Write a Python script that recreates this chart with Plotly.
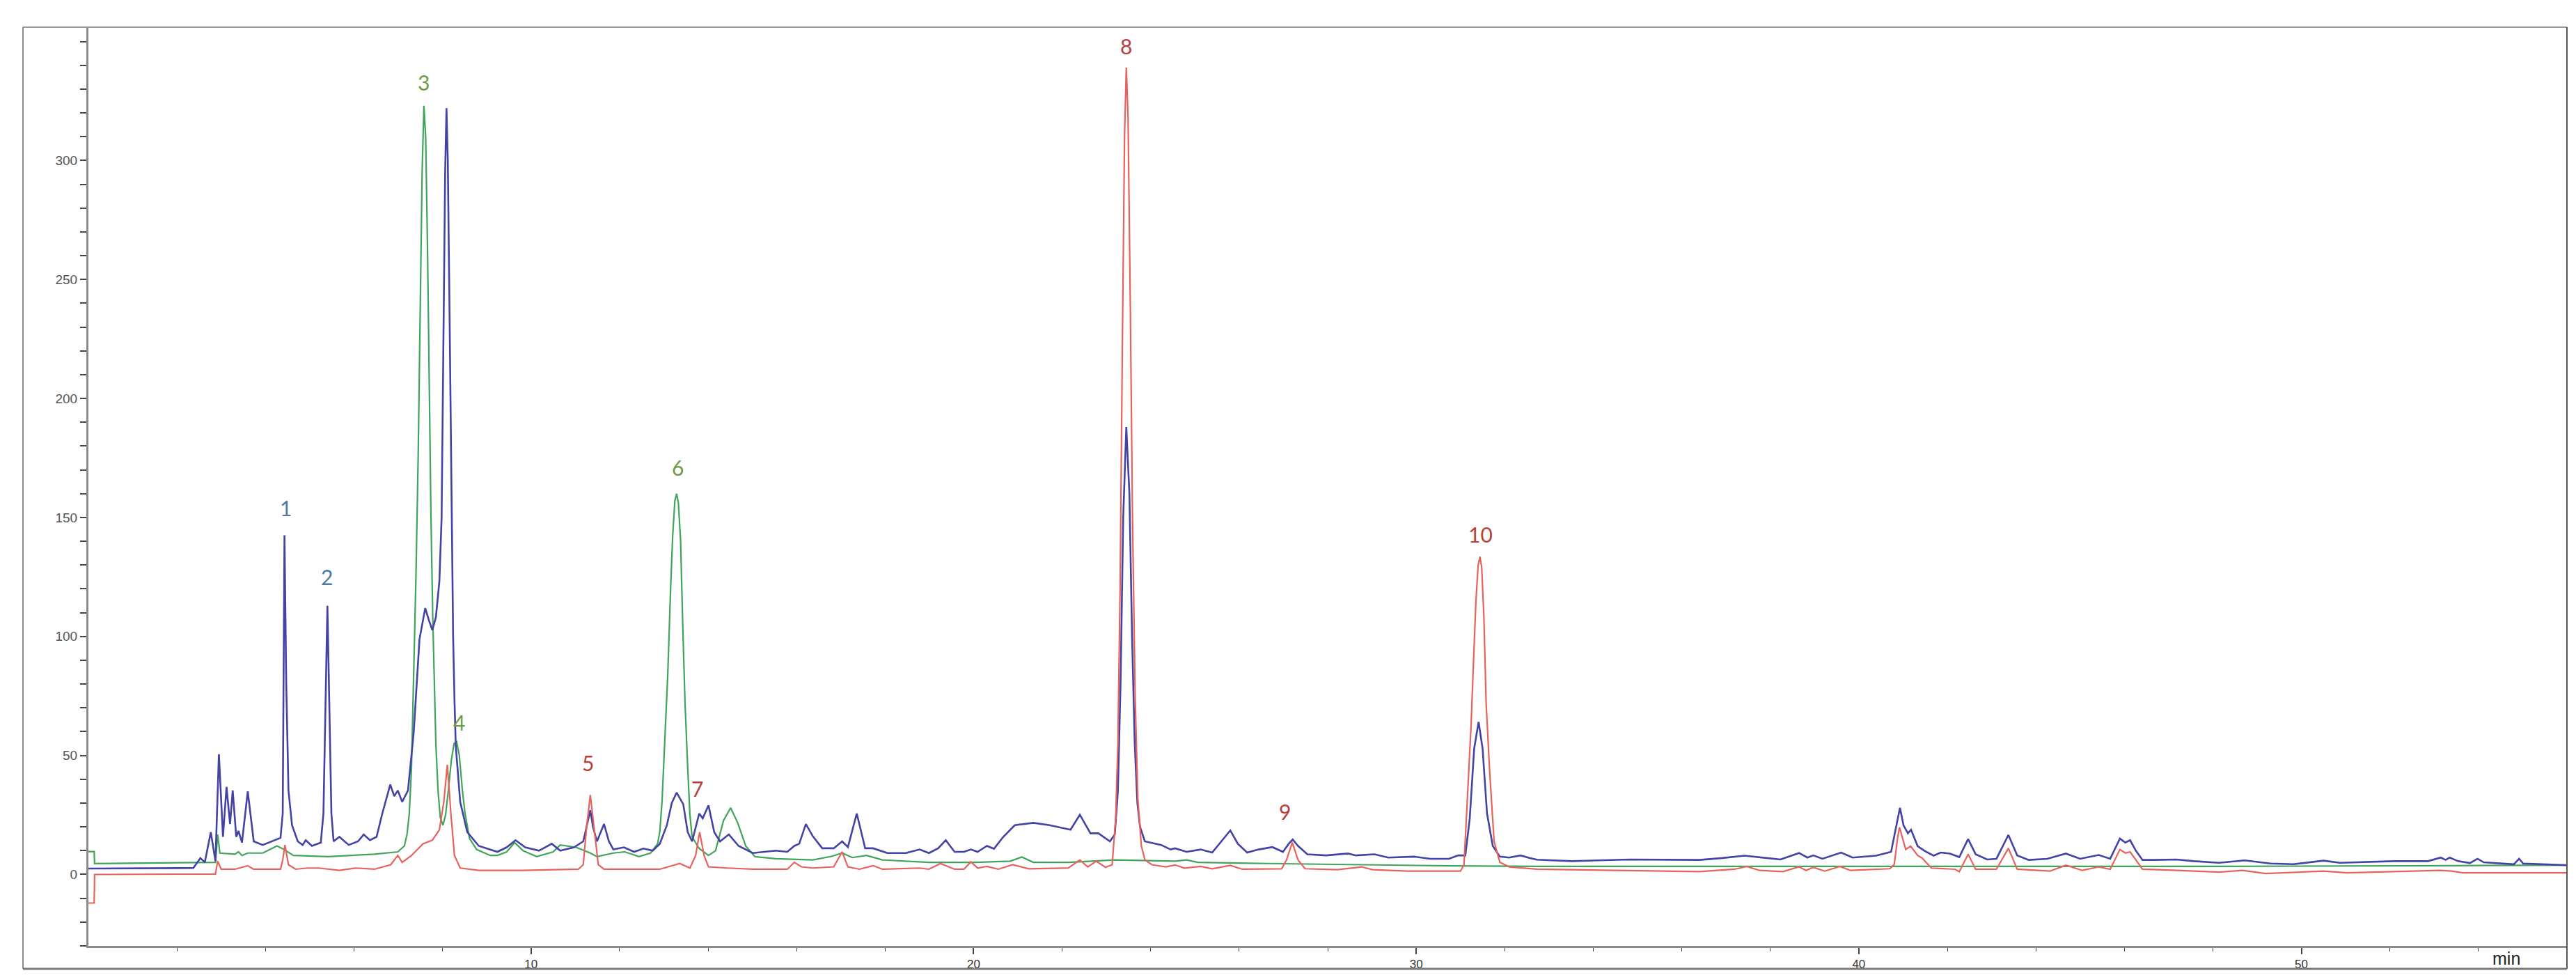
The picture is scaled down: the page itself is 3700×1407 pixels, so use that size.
import plotly.graph_objects as go

# ---------------- data ----------------
blue_t = [0.0, 1.70, 2.37, 2.53, 2.63, 2.765, 2.87, 2.948, 3.04, 3.12, 3.20, 3.26, 3.34, 3.39, 3.47, 3.60,
          3.735, 3.94, 4.26, 4.34, 4.39, 4.43, 4.47, 4.52, 4.60, 4.73, 4.84, 4.91, 5.05, 5.25, 5.31, 5.40,
          5.47, 5.49, 5.54, 5.67, 5.88, 6.09, 6.22, 6.36, 6.51, 6.64, 6.82, 6.91, 6.99, 7.09, 7.22, 7.35,
          7.48, 7.61, 7.69, 7.77, 7.85, 7.93, 7.98, 8.03, 8.06, 8.09, 8.12, 8.16, 8.20, 8.24, 8.27, 8.30,
          8.40, 8.56, 8.82, 9.24, 9.45, 9.65, 9.87, 10.18, 10.47, 10.66, 10.97, 11.18, 11.28, 11.34, 11.40,
          11.49, 11.65, 11.76, 11.86, 12.10, 12.33, 12.54, 12.75, 12.91, 13.07, 13.18, 13.29, 13.44, 13.54,
          13.64, 13.80, 13.88, 14.01, 14.14, 14.27, 14.47, 14.69, 15.01, 15.53, 15.79, 15.95, 16.06, 16.21,
          16.37, 16.58, 16.84, 17.03, 17.16, 17.36, 17.55, 17.73, 18.05, 18.47, 18.78, 18.99, 19.20, 19.37,
          19.57, 19.78, 19.94, 20.09, 20.30, 20.46, 20.67, 20.93, 21.35, 21.72, 22.19, 22.40, 22.64, 22.82,
          23.08, 23.19, 23.26, 23.32, 23.38, 23.45, 23.52, 23.58, 23.64, 23.70, 23.76, 23.87, 24.13, 24.24,
          24.45, 24.55, 24.81, 25.13, 25.39, 25.60, 25.80, 25.97, 26.18, 26.44, 26.75, 26.99, 27.12, 27.21,
          27.33, 27.54, 27.96, 28.46, 28.64, 29.06, 29.37, 29.95, 30.32, 30.74, 30.95, 31.11, 31.21, 31.31,
          31.41, 31.50, 31.60, 31.73, 31.89, 32.10, 32.36, 32.57, 32.73, 33.52, 34.83, 36.40, 36.92, 37.42,
          37.76, 38.23, 38.65, 38.84, 38.97, 39.18, 39.60, 39.86, 40.39, 40.73, 40.83, 40.93, 41.01, 41.11,
          41.18, 41.33, 41.48, 41.69, 41.85, 42.06, 42.27, 42.47, 42.64, 42.90, 43.11, 43.38, 43.58, 43.84,
          44.26, 44.68, 45.00, 45.42, 45.68, 45.90, 46.02, 46.13, 46.26, 46.41, 46.68, 47.17, 47.57, 47.99,
          48.14, 48.72, 49.30, 49.82, 50.50, 50.87, 52.08, 52.86, 53.15, 53.26, 53.35, 53.54, 53.81, 53.98,
          54.12, 54.80, 54.92, 55.01, 56.0]
blue_v = [2.5, 2.5, 2.7, 6.9, 5.1, 17.8, 5.6, 50.5, 15.8, 36.8, 21.2, 35.3, 15.8, 18.3, 13.4, 34.9,
          13.9, 12.4, 14.9, 15.4, 25.6, 142.5, 80, 35.3, 20.7, 13.9, 12.4, 14.4, 12.0, 13.4, 25.6, 112.9,
          45, 25.6, 13.9, 15.8, 12.4, 13.9, 16.8, 14.4, 15.8, 25.6, 37.8, 32.9, 35.3, 30.5, 35.3, 59.7,
          98.8, 111.9, 107, 102.7, 108, 123.2, 150, 230, 295, 322, 300, 235, 160, 100, 74, 54,
          30.5, 17.8, 12.0, 9.5, 11.4, 14.4, 11.4, 10.0, 12.9, 10.0, 11.4, 13.9, 22, 27, 20,
          13.9, 21.2, 13.9, 10.5, 11.4, 9.5, 10.9, 10.0, 12.9, 20.7, 30, 34.4, 29.5, 17.8,
          13.9, 25.6, 23.6, 29.0, 17.8, 13.9, 16.8, 12.0, 9.0, 10.0, 9.5, 12.0, 12.9, 21.2,
          16.0, 11.0, 11.0, 13.9, 11.5, 25.6, 11.0, 11.0, 9.0, 9.0, 10.5, 9.0, 11.0, 14.4,
          9.5, 9.5, 10.5, 9.5, 12.0, 10.8, 15.8, 20.7, 21.7, 20.7, 18.8, 25.1, 17.3, 17.3,
          13.9, 16.8, 35, 80, 150, 188, 160, 100, 55, 30, 20, 13.9, 12.9, 12.4,
          10.5, 11.0, 9.5, 10.5, 9.2, 13.9, 18.5, 12.9, 9.2, 10.5, 11.5, 9.5, 12.9, 14.7,
          12.0, 8.5, 8.0, 8.8, 8.0, 8.5, 7.1, 7.5, 6.6, 6.6, 8.0, 8.0, 23.6, 52.9,
          64.1, 52.9, 25.6, 12.0, 7.5, 7.1, 8.0, 6.9, 6.2, 5.6, 6.3, 6.1, 6.9, 7.9,
          7.3, 6.3, 9.0, 7.1, 8.0, 6.6, 9.2, 7.1, 7.9, 9.5, 18.8, 28.0, 20.7, 17.3,
          18.8, 11.9, 10.0, 7.9, 9.2, 8.8, 7.3, 14.9, 8.5, 6.3, 6.6, 16.6, 8.0, 6.1,
          6.6, 8.8, 6.6, 8.2, 6.6, 15.1, 13.4, 14.4, 10.0, 6.1, 6.1, 6.3, 5.6, 5.1,
          4.9, 5.9, 4.6, 4.3, 5.8, 4.9, 5.6, 5.6, 7.1, 6.1, 7.1, 5.6, 4.8, 6.6,
          5.1, 4.3, 6.6, 4.6, 3.9]

green_t = [0.0, 0.13, 0.14, 2.87, 2.92, 2.97, 3.31, 3.39, 3.47, 3.60, 3.94, 4.26, 4.42, 4.63, 5.41, 6.46,
           6.99, 7.14, 7.20, 7.25, 7.30, 7.35, 7.40, 7.45, 7.50, 7.54, 7.58, 7.62, 7.66, 7.70, 7.74, 7.78,
           7.82, 7.85, 7.90, 7.95, 8.01, 8.07, 8.13, 8.20, 8.26, 8.32, 8.38, 8.45, 8.51, 8.61, 8.77, 9.08,
           9.24, 9.45, 9.63, 9.82, 10.13, 10.50, 10.66, 11.02, 11.34, 11.49, 11.86, 12.12, 12.44, 12.70,
           12.86, 12.91, 12.96, 13.02, 13.09, 13.15, 13.20, 13.25, 13.29, 13.33, 13.38, 13.43, 13.48, 13.54,
           13.59, 13.64, 13.80, 14.01, 14.17, 14.35, 14.51, 14.67, 14.85, 15.06, 15.53, 16.37, 16.79, 17.03,
           17.26, 17.58, 17.94, 18.99, 20.04, 20.83, 21.09, 21.35, 22.14, 23.19, 24.55, 24.81, 25.07, 26.65,
           28.75, 30.84, 32.73, 36.92, 40.91, 45.0, 48.14, 53.39, 56.0]
green_v = [9.6, 9.6, 4.6, 5.1, 16.8, 9.0, 8.5, 9.5, 8.0, 9.0, 9.0, 12.0, 10.5, 8.0, 7.5, 8.5,
           9.5, 12.0, 17, 25.6, 45, 84, 125, 175, 240, 295, 323, 310, 265, 200, 150, 108,
           72, 55, 35, 24, 20.7, 25, 35, 48, 55, 55.8, 50, 35.3, 25.6, 15.2, 10.5, 8.0,
           8.0, 9.5, 13.4, 10.0, 7.5, 9.5, 12.4, 11.4, 9.0, 7.5, 9.0, 9.5, 7.5, 9.0,
           12.9, 18, 30.5, 55, 84.1, 118, 142, 157, 160, 156, 140, 103.6, 72, 45.1,
           25, 15.8, 10.9, 8.0, 10.0, 22.7, 28.0, 21.7, 12.0, 7.5, 6.6, 6.1, 7.6, 9.0,
           7.1, 8.0, 6.1, 5.1, 5.1, 5.6, 7.3, 5.1, 5.1, 6.1, 5.6, 6.1, 5.1, 4.6,
           4.1, 3.6, 3.4, 3.4, 3.2, 3.3, 3.4, 3.7, 3.9]

red_t = [0.0, 0.13, 0.14, 2.87, 2.92, 3.00, 3.31, 3.60, 3.73, 4.34, 4.39, 4.44, 4.52, 4.68, 4.94, 5.20,
         5.67, 6.04, 6.46, 6.83, 6.99, 7.09, 7.30, 7.56, 7.77, 7.93, 8.03, 8.11, 8.19, 8.27, 8.40, 8.82,
         9.76, 11.07, 11.18, 11.26, 11.34, 11.42, 11.52, 11.65, 12.91, 13.36, 13.59, 13.72, 13.81, 13.91,
         14.01, 14.43, 15.01, 15.79, 15.95, 16.11, 16.37, 16.84, 17.03, 17.16, 17.42, 17.73, 17.94, 18.78,
         18.99, 19.25, 19.57, 19.78, 19.94, 20.09, 20.30, 20.56, 20.88, 21.25, 22.14, 22.40, 22.58, 22.77,
         22.98, 23.13, 23.21, 23.26, 23.31, 23.36, 23.41, 23.45, 23.49, 23.54, 23.59, 23.65, 23.71, 23.79,
         23.87, 24.03, 24.34, 24.55, 24.76, 25.13, 25.39, 25.80, 26.07, 26.96, 27.07, 27.20, 27.33, 27.49,
         28.22, 28.77, 29.01, 29.79, 31.00, 31.08, 31.16, 31.24, 31.30, 31.35, 31.40, 31.44, 31.48, 31.53,
         31.58, 31.66, 31.76, 31.89, 32.10, 32.73, 36.40, 37.19, 37.47, 37.76, 38.29, 38.65, 38.81, 38.97,
         39.23, 39.57, 39.81, 40.70, 40.80, 40.88, 40.92, 41.06, 41.17, 41.33, 41.43, 41.64, 42.17, 42.27,
         42.47, 42.64, 43.11, 43.38, 43.58, 44.32, 44.68, 45.05, 45.42, 45.68, 45.90, 46.02, 46.13, 46.41,
         47.20, 48.14, 48.67, 49.19, 50.50, 51.03, 53.13, 53.39, 53.65, 56.0]
red_v = [-12, -12, 0.0, 0.2, 5.6, 2.2, 2.2, 3.7, 2.2, 2.2, 6.1, 12.4, 4.1, 2.2, 2.7, 2.7,
         1.7, 2.7, 2.2, 4.1, 8.0, 5.1, 8.0, 12.9, 14.4, 18.8, 30.5, 46.1, 25.6, 8.0, 2.7, 1.7,
         1.7, 2.2, 4.1, 20.7, 33.4, 20.7, 4.1, 2.2, 2.2, 4.6, 2.7, 8.0, 17.8, 8.0,
         3.2, 2.7, 2.2, 2.2, 5.1, 3.2, 2.7, 3.2, 9.5, 3.2, 2.2, 3.7, 2.2, 2.7,
         2.2, 4.6, 2.2, 2.2, 5.3, 2.7, 3.4, 2.2, 4.1, 2.4, 2.7, 6.1, 3.2, 5.6,
         3.0, 4.1, 23.6, 55, 120, 220, 310, 339, 318, 240, 150, 75, 32, 12,
         6.1, 4.1, 3.2, 4.0, 2.7, 3.4, 2.4, 3.8, 2.2, 2.4, 6.1, 13.4, 6.1, 2.4,
         2.0, 3.2, 2.0, 1.4, 1.4, 4.1, 33.4, 62.7, 92, 115, 130, 133.5, 129, 108,
         72, 43.2, 13.9, 5.1, 3.2, 2.2, 1.2, 2.2, 3.4, 1.7, 1.2, 3.2, 1.7, 3.0,
         1.4, 3.4, 1.7, 2.4, 4.2, 15.8, 19.8, 10.5, 11.9, 8.0, 6.9, 2.7, 2.2, 1.2,
         8.5, 2.2, 2.2, 11.0, 2.2, 1.4, 3.9, 1.7, 3.2, 2.2, 10.5, 9.0, 9.5, 2.2,
         1.7, 1.0, 1.7, 0.4, 1.4, 0.7, 1.7, 1.4, 0.7, 0.7]

peak_labels = ["1", "2", "3", "4", "5", "6", "7", "8", "9", "10"]
peak_label_t = [4.46, 5.39, 7.57, 8.38, 11.28, 13.31, 13.76, 23.45, 27.04, 31.46]
peak_label_v = [154, 125, 333, 64, 47, 171, 36, 348, 26.6, 143]
peak_label_group = ["blue", "blue", "green", "green", "red", "green", "red", "red", "red", "red"]

y_tick_values = list(range(-30, 351, 10))
y_tick_labels = [str(v) if (v >= 0 and v <= 300 and v % 50 == 0) else "" for v in y_tick_values]
x_major_ticks = [10, 20, 30, 40, 50]
x_minor_ticks = [v for v in range(2, 56, 2) if v % 10 != 0]

# ---------------- styling ----------------
line_colors = {"blue": "#4343a6", "green": "#3fa55a", "red": "#e8625d"}
label_colors = {"blue": "#4e79a7", "green": "#6e9a45", "red": "#b8403a"}

fig = go.Figure()
fig.add_trace(go.Scatter(x=green_t, y=green_v, mode="lines",
                         line=dict(color=line_colors["green"], width=2.2), showlegend=False))
fig.add_trace(go.Scatter(x=blue_t, y=blue_v, mode="lines",
                         line=dict(color=line_colors["blue"], width=2.6), showlegend=False))
fig.add_trace(go.Scatter(x=red_t, y=red_v, mode="lines",
                         line=dict(color=line_colors["red"], width=2.2), showlegend=False))

for txt, t, v, g in zip(peak_labels, peak_label_t, peak_label_v, peak_label_group):
    fig.add_annotation(x=t, y=v, xref="x", yref="y", text=txt, showarrow=False,
                       font=dict(family="Lato, Open Sans, sans-serif", size=30, color=label_colors[g]),
                       xanchor="center", yanchor="middle")

fig.add_annotation(x=54.63, y=-0.0136, xref="x", yref="paper", text="min", showarrow=False,
                   font=dict(family="Liberation Sans, Arial, sans-serif", size=25, color="#222222"),
                   xanchor="center", yanchor="middle")

# outer frame
fig.add_shape(type="line", xref="paper", yref="paper", x0=-0.0264, x1=1.0, y0=1.0, y1=1.0,
              line=dict(color="#9a9a9a", width=2))
fig.add_shape(type="line", xref="paper", yref="paper", x0=-0.0264, x1=-0.0264, y0=-0.025, y1=1.0,
              line=dict(color="#8a8a8a", width=2))
fig.add_shape(type="line", xref="paper", yref="paper", x0=1.0, x1=1.0, y0=-0.025, y1=1.0,
              line=dict(color="#555555", width=2))
fig.add_shape(type="line", xref="paper", yref="paper", x0=-0.0264, x1=1.0, y0=-0.025, y1=-0.025,
              line=dict(color="#7a7a7a", width=3))

fig.update_layout(
    width=3700, height=1407,
    margin=dict(l=119, r=21, t=31, b=57),
    paper_bgcolor="white", plot_bgcolor="white",
    showlegend=False,
    xaxis=dict(range=[0, 56], showgrid=False, zeroline=False,
               showline=True, linecolor="#8c8c8c", linewidth=3,
               tickmode="array", tickvals=x_major_ticks, ticks="outside", ticklen=9,
               tickwidth=1.5, tickcolor="#444444",
               tickfont=dict(family="Liberation Sans, Arial, sans-serif", size=17, color="#333333"),
               minor=dict(tickmode="array", tickvals=x_minor_ticks, ticks="outside", ticklen=5,
                          tickwidth=1.2, tickcolor="#444444", showgrid=False)),
    yaxis=dict(range=[-30, 356], showgrid=False, zeroline=False,
               showline=True, linecolor="#8c8c8c", linewidth=3,
               tickmode="array", tickvals=y_tick_values, ticktext=y_tick_labels,
               ticks="outside", ticklen=9, tickwidth=1.5, tickcolor="#444444",
               tickfont=dict(family="Liberation Sans, Arial, sans-serif", size=19, color="#555555")),
)

fig.write_html("out.html")
